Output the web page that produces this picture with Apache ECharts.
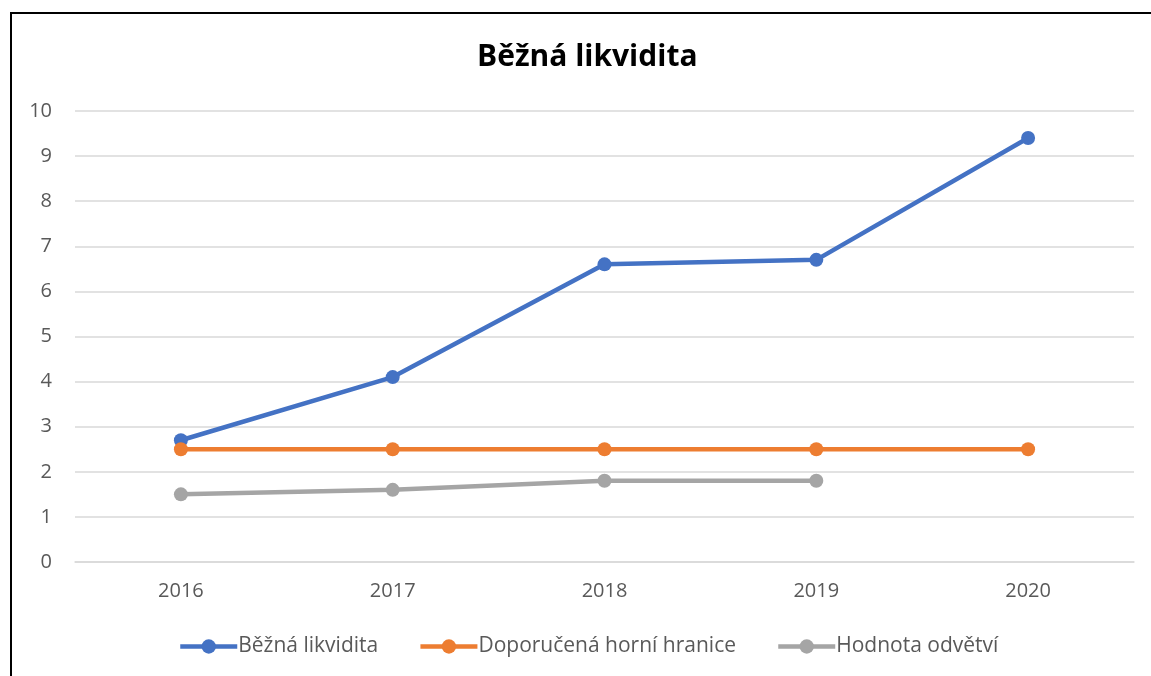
<!DOCTYPE html>
<html>
<head>
<meta charset="utf-8">
<script src="https://cdn.jsdelivr.net/npm/echarts@6/dist/echarts.min.js"></script>
<style>
  html, body { margin: 0; padding: 0; background: #fff; }
  #chart { width: 1151px; height: 676px; }
</style>
</head>
<body>
<div id="chart"></div>
<script>
var years = ['2016', '2017', '2018', '2019', '2020'];
var beznaLikvidita = [2.7, 4.1, 6.6, 6.7, 9.4];
var horniHranice = [2.5, 2.5, 2.5, 2.5, 2.5];
var hodnotaOdvetvi = [1.5, 1.6, 1.8, 1.8, null];

var chart = echarts.init(document.getElementById('chart'));

function lineSeries(name, data, color) {
  return {
    name: name,
    type: 'line',
    data: data,
    symbol: 'circle',
    symbolSize: 14,
    itemStyle: { color: color },
    lineStyle: { width: 4.5, color: color },
    connectNulls: false
  };
}

var option = {
  backgroundColor: '#ffffff',
  animation: false,
  textStyle: { fontFamily: '"Open Sans", Lato, sans-serif' },
  graphic: [{
    type: 'rect',
    shape: { x: 11, y: 13, width: 1200, height: 700 },
    style: { fill: 'none', stroke: '#000', lineWidth: 2 },
    silent: true
  }],
  title: {
    text: 'Běžná likvidita',
    left: 472,
    top: 37,
    textStyle: { fontSize: 30, fontWeight: 'bold', color: '#000', fontFamily: '"Open Sans", sans-serif' }
  },
  legend: {
    bottom: 14,
    left: 173,
    itemWidth: 57,
    itemHeight: 18,
    itemGap: 40,
    lineStyle: { width: 4.5 },
    textStyle: { fontSize: 21, color: '#595959', padding: [0, 0, 0, -4] },
    data: ['Běžná likvidita', 'Doporučená horní hranice', 'Hodnota odvětví']
  },
  grid: { left: 75, right: 17, top: 111, bottom: 114 },
  xAxis: {
    type: 'category',
    data: years,
    boundaryGap: true,
    axisLine: { show: true, lineStyle: { color: '#d9d9d9', width: 1.5 } },
    axisTick: { show: false },
    axisLabel: { fontSize: 20, color: '#595959', margin: 19 }
  },
  yAxis: {
    type: 'value',
    min: 0,
    max: 10,
    interval: 1,
    axisLine: { show: false },
    axisTick: { show: false },
    splitLine: { lineStyle: { color: '#d9d9d9', width: 1.5 } },
    axisLabel: { fontSize: 20, color: '#595959', margin: 23 }
  },
  series: [
    lineSeries('Běžná likvidita', beznaLikvidita, '#4472C4'),
    lineSeries('Doporučená horní hranice', horniHranice, '#ED7D31'),
    lineSeries('Hodnota odvětví', hodnotaOdvetvi, '#A5A5A5')
  ]
};
chart.setOption(option);
</script>
</body>
</html>
